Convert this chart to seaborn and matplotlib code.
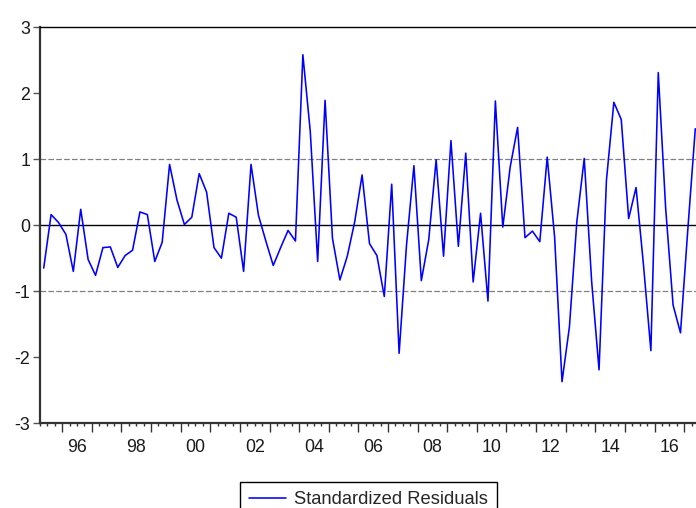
import numpy as np
import pandas as pd
import matplotlib
matplotlib.use('Agg')
import matplotlib.pyplot as plt
import seaborn as sns

# Quarterly sample, 1995Q2 - 2017Q2
start_q = '1995Q2'
end_q = '2017Q2'

# Standardized residuals (one value per quarter)
resid = [
    -0.65, 0.16, 0.04, -0.14, -0.70, 0.24, -0.52, -0.76, -0.34, -0.33,
    -0.64, -0.46, -0.38, 0.20, 0.16, -0.55, -0.26, 0.92, 0.38, 0.01,
    0.12, 0.78, 0.50, -0.34, -0.50, 0.18, 0.12, -0.70, 0.92, 0.15,
    -0.24, -0.61, -0.34, -0.08, -0.24, 2.58, 1.42, -0.55, 1.89, -0.20,
    -0.83, -0.47, 0.05, 0.76, -0.28, -0.46, -1.08, 0.62, -1.94, -0.30,
    0.90, -0.84, -0.22, 0.99, -0.47, 1.28, -0.32, 1.09, -0.86, 0.18,
    -1.15, 1.88, -0.03, 0.88, 1.48, -0.19, -0.09, -0.25, 1.03, -0.18,
    -2.37, -1.54, 0.05, 1.01, -0.85, -2.19, 0.68, 1.86, 1.60, 0.10,
    0.57, -0.60, -1.90, 2.31, 0.25, -1.21, -1.63, -0.05, 1.46,
]

year_labels = ['96', '98', '00', '02', '04', '06', '08', '10', '12', '14', '16']
label_years = [1996, 1998, 2000, 2002, 2004, 2006, 2008, 2010, 2012, 2014, 2016]
y_ticks = [-3, -2, -1, 0, 1, 2, 3]
series_name = 'Standardized Residuals'

# quarter -> position in years (centre of the quarter)
periods = pd.period_range(start_q, end_q, freq='Q')
df = pd.DataFrame({
    'pos': periods.year + (periods.quarter - 1) / 4 + 0.125,
    'resid': resid,
})

sns.set_style('white')
plt.rcParams['font.family'] = ['Liberation Sans', 'DejaVu Sans']

fig = plt.figure(figsize=(6.96, 5.08), dpi=100)
ax = fig.add_axes([40 / 696, 84.7 / 508, 659 / 696, 396.3 / 508])

# reference lines
ax.axhline(0, color='black', lw=1.0, zorder=1)
for lv in (-1, 1):
    ax.axhline(lv, color='#808080', lw=0.9, ls=(0, (4.5, 1.8)), zorder=1)

sns.lineplot(data=df, x='pos', y='resid', ax=ax, color='#0000FF', lw=1.15,
             label=series_name, legend=False, zorder=3)

x0 = pd.Period(start_q, freq='Q')
ax.set_xlim(x0.year + (x0.quarter - 1) / 4, 2017.5)
ax.set_ylim(-3, 3)
ax.set_xlabel('')
ax.set_ylabel('')

# year boundaries = major ticks, quarters = minor ticks
ax.set_xticks(np.arange(1996, 2018))
ax.set_xticklabels([])
ax.set_xticks(np.arange(1995.25, 2017.5, 0.25), minor=True)
ax.tick_params(axis='x', which='major', direction='out', length=6.5, width=1.0,
               color='#333333', bottom=True)
ax.tick_params(axis='x', which='minor', direction='out', length=2.4, width=1.0,
               color='#333333', bottom=True)

# year labels sit in the middle of the year
sec = ax.secondary_xaxis('bottom')
sec.set_xticks([y + 0.5 for y in label_years], labels=year_labels)
sec.tick_params(length=0, pad=11.5, labelsize=12.8, labelcolor='#1a1a1a')
sec.spines['bottom'].set_visible(False)

ax.set_yticks(y_ticks)
ax.set_yticklabels([str(v) for v in y_ticks])
ax.tick_params(axis='y', direction='out', length=5, width=1.0, color='#555555',
               pad=2, labelsize=12.8, labelcolor='#1a1a1a', left=True)

for side in ('left', 'bottom'):
    ax.spines[side].set_color('#333333')
    ax.spines[side].set_linewidth(1.6)
ax.spines['top'].set_color('black')
ax.spines['top'].set_linewidth(1.0)
ax.spines['right'].set_visible(False)
ax.grid(False)

handles, labels = ax.get_legend_handles_labels()
leg = fig.legend(handles, labels, loc='upper left',
                 bbox_to_anchor=(240 / 696, 1 - 482 / 508),
                 frameon=True, fancybox=False, framealpha=1, edgecolor='black',
                 fontsize=13.2, handlelength=2.0, handletextpad=0.45,
                 borderpad=0.5, borderaxespad=0)
leg.get_frame().set_linewidth(1.0)

fig.savefig('out.png', dpi=100)
